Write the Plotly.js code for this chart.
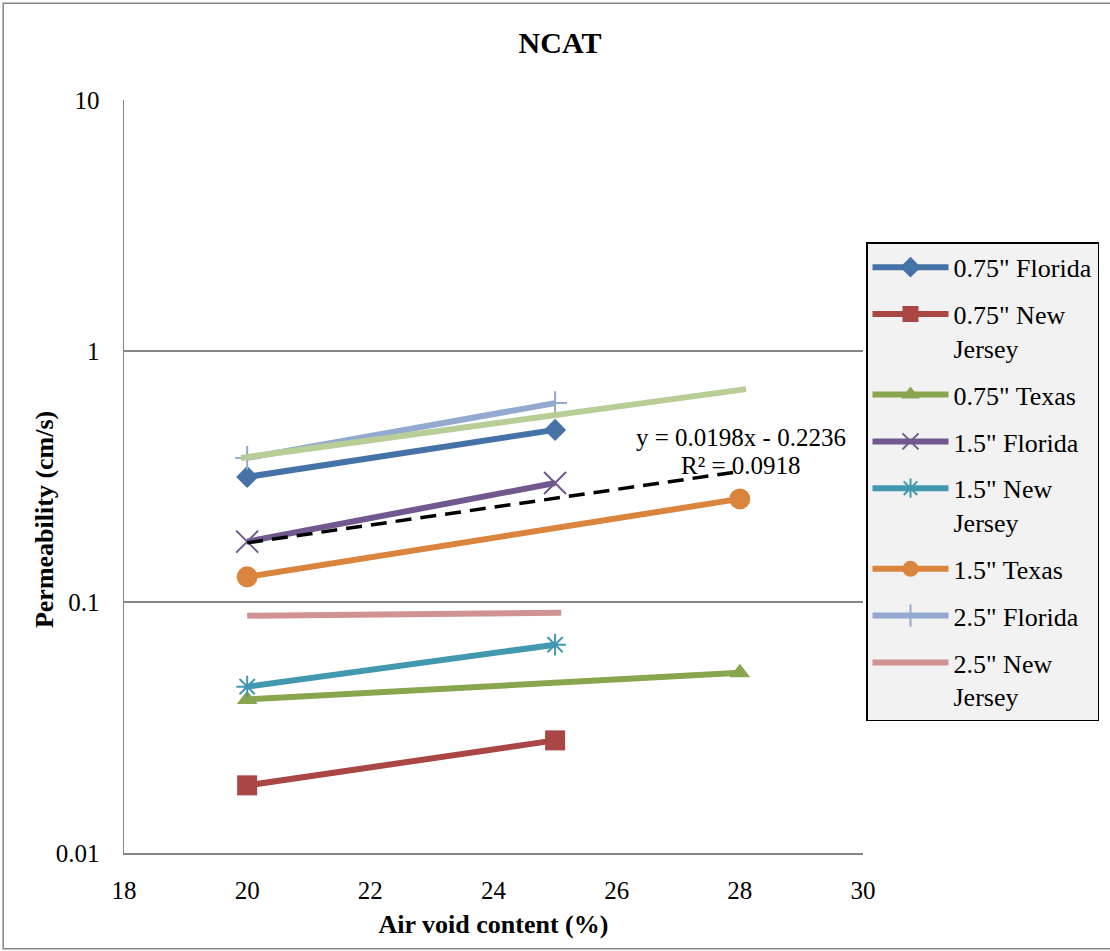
<!DOCTYPE html>
<html>
<head>
<meta charset="utf-8">
<script src="https://cdn.plot.ly/plotly-3.0.1.min.js"></script>
<style>
html,body{margin:0;padding:0;background:#ffffff;}
#chart{width:1110px;height:951px;}
</style>
</head>
<body>
<div id="chart"></div>
<script>
// ---- data ----
const xTicks = [18, 20, 22, 24, 26, 28, 30];
const yTickVals = [0.01, 0.1, 1, 10];
const yTickText = ['0.01', '0.1', '1', '10'];

const fl075X = [20, 25];   const fl075Y = [0.315, 0.485];
const nj075X = [20, 25];   const nj075Y = [0.0186, 0.0281];
const tx075X = [20, 28];   const tx075Y = [0.0409, 0.0523];
const fl15X  = [20, 25];   const fl15Y  = [0.174, 0.298];
const nj15X  = [20, 25];   const nj15Y  = [0.0460, 0.0676];
const tx15X  = [20, 28];   const tx15Y  = [0.126, 0.2575];
const fl25X  = [20, 25];   const fl25Y  = [0.375, 0.620];
const nj25X  = [20, 25.1]; const nj25Y  = [0.0882, 0.0906];
const tx25X  = [19.9, 28.1]; const tx25Y = [0.375, 0.705];
const trendX = [20, 28];   const trendY = [0.172, 0.331];

const trendEq = 'y = 0.0198x - 0.2236';
const trendR2 = 'R² = 0.0918';

const FONT = "'Liberation Serif', 'Times New Roman', serif";

function series(name, x, y, color, symbol, size, open) {
  const t = {
    type: 'scatter', mode: symbol ? 'lines+markers' : 'lines',
    name: name, x: x, y: y, legendgroup: name,
    line: {color: color, width: 6},
    hoverinfo: 'x+y+name'
  };
  if (symbol) {
    t.marker = open
      ? {symbol: symbol, size: size, color: color, line: {color: color, width: 2}}
      : {symbol: symbol, size: size, color: color, line: {width: 0}};
  }
  return t;
}

const data = [
  series('0.75" Florida', fl075X, fl075Y, '#4572A7', 'diamond', 17),
  series('0.75" New<br>Jersey', nj075X, nj075Y, '#AA4643', 'square', 20),
  series('0.75" Texas', tx075X, tx075Y, '#89A54E', 'triangle-up', 18),
  series('1.5" Florida', fl15X, fl15Y, '#71588F', 'x-thin-open', 22, true),
  series('1.5" New<br>Jersey', nj15X, nj15Y, '#4198AF', 'asterisk-open', 18, true),
  series('1.5" Texas', tx15X, tx15Y, '#DB843D', 'circle', 21),
  series('2.5" Florida', fl25X, fl25Y, '#93A9CF', 'cross-thin-open', 17, true),
  series('2.5" New<br>Jersey', nj25X, nj25Y, '#D19392', null),
  Object.assign(series('2.5" Texas', tx25X, tx25Y, '#B9CD96', null), {showlegend: false}),
  {
    type: 'scatter', mode: 'lines', name: 'Linear trend', x: trendX, y: trendY,
    line: {color: '#000000', width: 3.5, dash: '16px,9px'}, showlegend: false
  }
];

const layout = {
  width: 1110, height: 951,
  margin: {l: 124, r: 246, t: 99.5, b: 97.5},
  paper_bgcolor: '#ffffff', plot_bgcolor: '#ffffff',
  font: {family: FONT, size: 25, color: '#000000'},
  title: {
    text: 'NCAT', font: {family: FONT, size: 30, weight: 'bold', color: '#000'},
    x: 560 / 1110, xref: 'container', xanchor: 'center',
    y: 1 - 42 / 951, yref: 'container', yanchor: 'middle'
  },
  xaxis: {
    range: [18, 30], tickvals: xTicks, ticks: '', showgrid: false, zeroline: false,
    showline: true, linecolor: '#868686', linewidth: 1.5,
    tickfont: {family: FONT, size: 25}, ticklabelstandoff: 14,
    title: {text: 'Air void content (%)', font: {family: FONT, size: 26, weight: 'bold'}, standoff: 12}
  },
  yaxis: {
    type: 'log', range: [-2, 1], tickvals: yTickVals, ticktext: yTickText, ticks: '',
    showgrid: true, gridcolor: '#868686', gridwidth: 1.5, zeroline: false,
    showline: true, linecolor: '#868686', linewidth: 1.5,
    tickfont: {family: FONT, size: 25}, ticklabelstandoff: 18
  },
  legend: {
    x: (866 - 124) / 740, xanchor: 'left', y: (853.5 - 242) / 754, yanchor: 'top',
    bgcolor: '#f2f2f2', bordercolor: '#000000', borderwidth: 1.5,
    font: {family: FONT, size: 26, color: '#000'},
    traceorder: 'grouped', tracegroupgap: 10, valign: 'top', itemwidth: 76
  },
  showlegend: true,
  annotations: [
    {text: 'Permeability (cm/s)', textangle: -90, xref: 'paper', yref: 'paper',
     x: (45 - 124) / 740, y: (853.5 - 520) / 754, xanchor: 'center', yanchor: 'middle',
     showarrow: false, font: {family: FONT, size: 26, weight: 'bold'}},
    {text: trendEq, xref: 'paper', yref: 'paper', x: (742 - 124) / 740, y: (853.5 - 437) / 754,
     xanchor: 'center', yanchor: 'middle', showarrow: false, font: {family: FONT, size: 25}},
    {text: trendR2, xref: 'paper', yref: 'paper', x: (742 - 124) / 740, y: (853.5 - 465) / 754,
     xanchor: 'center', yanchor: 'middle', showarrow: false, font: {family: FONT, size: 25}}
  ],
  shapes: [
    {type: 'rect', xref: 'paper', yref: 'paper', layer: 'below',
     x0: (3 - 124) / 740, x1: (1116 - 124) / 740, y0: (853.5 - 949.5) / 754, y1: (853.5 - 2.5) / 754,
     line: {color: '#868686', width: 1.5}, fillcolor: 'rgba(0,0,0,0)'}
  ]
};

Plotly.newPlot('chart', data, layout, {displayModeBar: false, staticPlot: true});
</script>
</body>
</html>
